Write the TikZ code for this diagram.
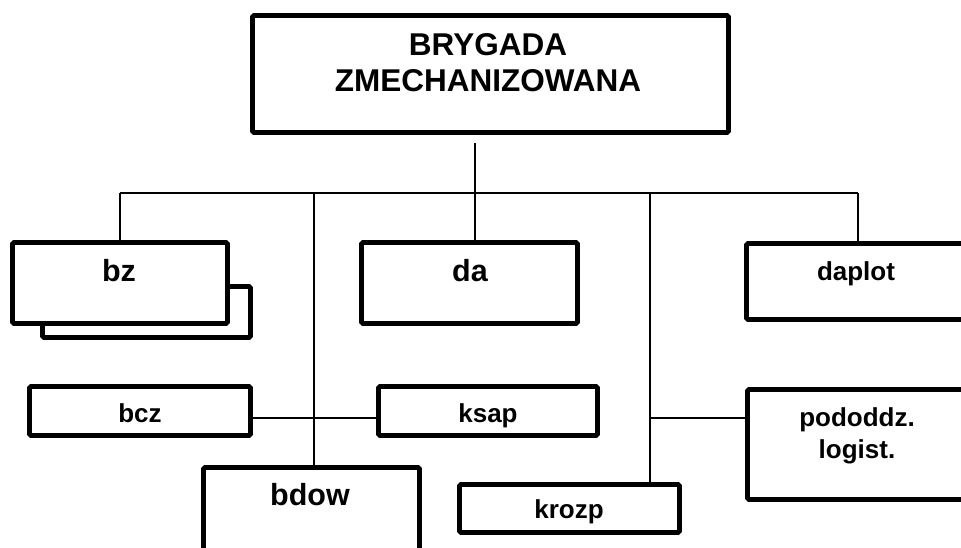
\documentclass[tikz,border=0pt]{standalone}
\usepackage{fontspec}
\setmainfont{Liberation Sans}
\usetikzlibrary{positioning}
\tikzstyle{unit}=[%
      rectangle, draw=black, line width=4.8pt, fill=white, rounded corners=1.5pt,
      inner sep=0pt
]
\tikzstyle{link}=[%
      draw=black, line width=1.3pt
]
\tikzstyle{title}=[font=\bfseries\fontsize{31.5}{36.5}\selectfont, inner sep=0pt]
\tikzstyle{big}=[font=\bfseries\fontsize{30.5}{36}\selectfont, inner sep=0pt]
\tikzstyle{small}=[font=\bfseries\fontsize{26}{32}\selectfont, inner sep=0pt]

\begin{document}
\begin{tikzpicture}[x=1pt, y=-1pt]
    \useasboundingbox (0,0) rectangle (961,547);

    % boxes
    \node[unit, minimum width=476pt, minimum height=117pt] (brig)   at (490.5,74)  {};
    \node[unit, minimum width=208pt, minimum height=51pt]  (bzback) at (146.5,312) {};
    \node[unit, minimum width=215pt, minimum height=81pt]  (bz)     at (120,283)   {};
    \node[unit, minimum width=216pt, minimum height=81pt]  (da)     at (469.5,283) {};
    \node[unit, minimum width=223pt, minimum height=76pt]  (daplot) at (858,281.5) {};
    \node[unit, minimum width=221pt, minimum height=49pt]  (bcz)    at (140,411)   {};
    \node[unit, minimum width=219pt, minimum height=49pt]  (ksap)   at (488,411)   {};
    \node[unit, minimum width=216pt, minimum height=102.5pt] (bdow) at (311.5,518.75) {};
    \node[unit, minimum width=220pt, minimum height=48pt]  (krozp)  at (569.5,508.5) {};
    \node[unit, minimum width=222.5pt, minimum height=110pt] (pod)  at (858.75,444.5) {};

    % labels
    \node[title, align=center] (brigT) at (488,62.5) {BRYGADA\\ZMECHANIZOWANA};
    \node[big, anchor=base]   (bzT)     at (119,281) {bz};
    \node[big, anchor=base]   (daT)     at (470,281) {da};
    \node[small, anchor=base] (daplotT) at (856,280) {daplot};
    \node[small, anchor=base] (bczT)    at (140,422) {bcz};
    \node[small, anchor=base] (ksapT)   at (488,422) {ksap};
    \node[big, anchor=base]   (bdowT)   at (310,505) {bdow};
    \node[small, anchor=base] (krozpT)  at (569,518) {krozp};
    \node[small, align=center] (podT)   at (857,436) {pododdz.\\logist.};

    % connectors
    \coordinate (hub) at (475,193);
    \coordinate (jl)  at (314,193);
    \coordinate (jr)  at (650,193);
    \coordinate (lvl) at (0,418);

    \draw[link] ([yshift=-8pt]brig.south -| hub) -- (hub);
    \draw[link] (bz.north |- hub) -- (daplot.north |- hub);
    \draw[link] (bz.north |- hub) -- (bz.north);
    \draw[link] (hub) -- (da.north -| hub);
    \draw[link] (daplot.north |- hub) -- (daplot.north);
    \draw[link] (jl) -- (bdow.north -| jl);
    \draw[link] (jr) -- (krozp.north -| jr);
    \draw[link] (bcz.east |- lvl) -- (ksap.west |- lvl);
    \draw[link] (jr |- lvl) -- (pod.west |- lvl);
\end{tikzpicture}
\end{document}
